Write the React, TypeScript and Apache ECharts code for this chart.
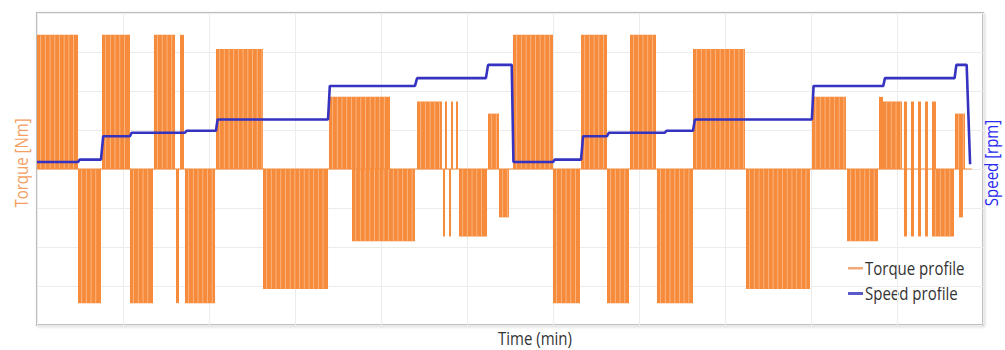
import React, { useEffect, useRef } from "react";
import * as echarts from "echarts";

// ---- data ----
// time axis (min)
const timeMin = 0;
const timeMax = 110;
const timeInterval = 10;

// torque axis (Nm)
const torqueMin = -40;
const torqueMax = 40;
const torqueInterval = 10;

// speed axis (rpm)
const speedMin = 0;
const speedMax = 8000;
const speedInterval = 1000;

// torque pulse blocks: start time, end time, torque level
const torqueStart = [
  0.0, 7.56, 13.6, 16.63, 20.81, 33.95, 44.19, 47.44, 48.14, 48.72, 52.44,
  55.35, 63.26, 68.95, 76.28, 90.12, 97.91, 98.37, 100.81, 101.63, 102.44, 103.26, 104.07, 106.74,
  4.77, 10.81, 16.16, 17.21, 26.28, 36.63, 47.21, 47.91, 49.07, 53.72,
  60.0, 66.28, 72.09, 82.44, 94.19, 100.81, 101.63, 102.44, 103.26, 104.07, 107.21,
];
const torqueEnd = [
  4.77, 10.81, 16.05, 17.09, 26.28, 41.05, 47.09, 47.67, 48.37, 48.95, 53.72,
  60.0, 66.28, 71.98, 82.33, 94.07, 98.37, 100.58, 101.16, 101.98, 102.79, 103.6, 104.53, 107.91,
  7.44, 13.49, 16.51, 20.7, 33.84, 43.95, 47.44, 48.14, 52.33, 54.88,
  63.14, 68.84, 76.28, 89.88, 97.79, 101.16, 101.98, 102.79, 103.6, 106.63, 107.67,
];
const torqueLevel = [
  34.4, 34.4, 34.4, 34.4, 30.8, 18.5, 17.3, 17.3, 17.3, 17.3, 14.2,
  34.4, 34.4, 34.4, 30.8, 18.5, 18.5, 17.3, 17.3, 17.3, 17.3, 17.3, 17.3, 14.2,
  -34.4, -34.4, -34.4, -34.4, -30.8, -18.5, -17.3, -17.3, -17.3, -12.4,
  -34.4, -34.4, -34.4, -30.8, -18.5, -17.3, -17.3, -17.3, -17.3, -17.3, -12.4,
];
// torque rests at zero between pulses
const torqueZeroSpan = [0, 108.7];

// speed profile
const speedTime = [
  0, 4.77, 4.95, 7.44, 7.7, 10.81, 11.0, 17.21, 17.4, 20.81, 21.0, 33.84, 34.05,
  43.95, 44.2, 52.2, 52.45, 55.2, 55.4, 60.0, 60.2, 63.26, 63.5, 66.28, 66.5,
  73.0, 73.2, 76.28, 76.5, 90.1, 90.3, 98.4, 98.6, 106.7, 106.9, 108.1, 108.5,
];
const speedValue = [
  4180, 4180, 4240, 4240, 4840, 4840, 4930, 4930, 4980, 4980, 5270, 5270, 6130,
  6130, 6330, 6330, 6670, 6670, 4180, 4180, 4240, 4240, 4840, 4840, 4930,
  4930, 4980, 4980, 5270, 5270, 6130, 6130, 6330, 6330, 6670, 6670, 4120,
];

const seriesNames = ["Torque profile", "Speed profile"];
const axisNames = ["Torque [Nm]", "Speed [rpm]", "Time (min)"];

// ---- styles ----
const FONT = "'Open Sans', 'Noto Sans', sans-serif";
const SQUEEZE = 0.79;
const ORANGE = "#f68b3c";
const STRIPE = "#fbb885";
const BLUE = "#3533c0";

export default function App() {
  const ref = useRef<HTMLDivElement>(null);

  useEffect(() => {
    if (!ref.current) return;
    const chart = echarts.init(ref.current, undefined, { renderer: "svg" });

    const torqueData = torqueStart.map((s, i) => [s, torqueEnd[i], torqueLevel[i]]);
    const speedData = speedTime.map((t, i) => [t, speedValue[i]]);

    const txt = (text: string, x: number, y: number, fill: string, rot: number, align: string) => ({
      type: "text",
      x,
      y,
      rotation: rot,
      scaleX: SQUEEZE,
      style: {
        text,
        fill,
        font: `19px ${FONT}`,
        align,
        verticalAlign: "middle",
      },
    });

    const option: any = {
      animation: false,
      backgroundColor: "#ffffff",
      grid: {
        left: 37,
        top: 13,
        right: 22,
        bottom: 25,
        show: true,
        backgroundColor: "#ffffff",
        borderColor: "#bfbfbf",
        borderWidth: 2,
        shadowColor: "rgba(0,0,0,0.15)",
        shadowBlur: 3,
        shadowOffsetX: 1,
        shadowOffsetY: 1,
      },
      xAxis: {
        type: "value",
        min: timeMin,
        max: timeMax,
        interval: timeInterval,
        axisLine: { show: false },
        axisTick: { show: false },
        axisLabel: { show: false },
        splitLine: { show: true, lineStyle: { color: "#ececec", width: 1 } },
      },
      yAxis: [
        {
          type: "value",
          min: torqueMin,
          max: torqueMax,
          interval: torqueInterval,
          axisLine: { show: false },
          axisTick: { show: false },
          axisLabel: { show: false },
          splitLine: { show: true, lineStyle: { color: "#ececec", width: 1 } },
        },
        {
          type: "value",
          min: speedMin,
          max: speedMax,
          interval: speedInterval,
          position: "right",
          axisLine: { show: false },
          axisTick: { show: false },
          axisLabel: { show: false },
          splitLine: { show: false },
        },
      ],
      series: [
        {
          name: seriesNames[0],
          type: "custom",
          xAxisIndex: 0,
          yAxisIndex: 0,
          clip: true,
          itemStyle: { color: ORANGE },
          encode: { x: [0, 1], y: 2 },
          data: torqueData,
          renderItem: (params: any, api: any) => {
            const s = api.value(0);
            const e = api.value(1);
            const v = api.value(2);
            const p0 = api.coord([s, 0]);
            const p1 = api.coord([e, v]);
            const left = p0[0];
            const right = p1[0];
            const top = Math.min(p0[1], p1[1]);
            const h = Math.abs(p1[1] - p0[1]);
            const w = Math.max(right - left, 1.4);
            const children: any[] = [
              { type: "rect", shape: { x: left, y: top, width: w, height: h }, style: { fill: ORANGE } },
            ];
            if (w > 5) {
              for (let sx = left + 3.2; sx < right - 1.5; sx += 4.7) {
                children.push({
                  type: "rect",
                  shape: { x: sx, y: top, width: 0.9, height: h },
                  style: { fill: STRIPE },
                });
              }
            }
            return { type: "group", children };
          },
          z: 2,
        },
        {
          name: "torque-zero",
          type: "line",
          xAxisIndex: 0,
          yAxisIndex: 0,
          silent: true,
          showSymbol: false,
          lineStyle: { color: ORANGE, width: 1.2 },
          data: [
            [torqueZeroSpan[0], 0],
            [torqueZeroSpan[1], 0],
          ],
          z: 3,
        },
        {
          name: seriesNames[1],
          type: "line",
          xAxisIndex: 0,
          yAxisIndex: 1,
          showSymbol: false,
          symbol: "none",
          lineStyle: { color: BLUE, width: 2.6 },
          itemStyle: { color: BLUE },
          data: speedData,
          z: 5,
        },
      ],
      graphic: [
        txt(axisNames[0], 21, 163, "#f4a062", Math.PI / 2, "center"),
        txt(axisNames[1], 991, 163, "#2a2af0", Math.PI / 2, "center"),
        txt(axisNames[2], 535, 338, "#333333", 0, "center"),
        // legend
        {
          type: "rect",
          shape: { x: 848, y: 267, width: 15, height: 2.5 },
          style: { fill: "#f2a877" },
        },
        txt(seriesNames[0], 865, 268, "#333333", 0, "left"),
        {
          type: "rect",
          shape: { x: 848, y: 292, width: 15, height: 3 },
          style: { fill: "#5a5acb" },
        },
        txt(seriesNames[1], 865, 293, "#333333", 0, "left"),
      ],
    };

    chart.setOption(option);
    return () => chart.dispose();
  }, []);

  return (
    <div
      ref={ref}
      style={{ position: "fixed", left: 0, top: 0, width: 1005, height: 350, background: "#fff" }}
    />
  );
}
